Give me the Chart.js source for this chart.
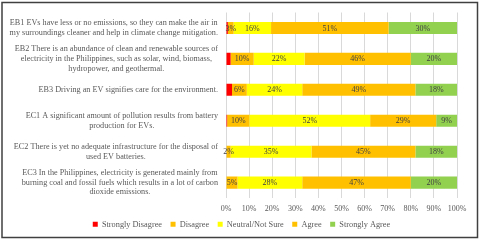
<!DOCTYPE html>
<html>
<head>
<meta charset="utf-8">
<script src="https://cdn.jsdelivr.net/npm/chart.js@4"></script>
<style>
html,body{margin:0;padding:0;background:#fff;}
#wrap{width:480px;height:240px;position:relative;}
</style>
</head>
<body>
<div id="wrap"><canvas id="c" width="480" height="240"></canvas></div>
<script>
const categories = [
  ["EB1 EVs have less or no emissions, so they can make the air in", "my surroundings cleaner and help in climate change mitigation."],
  ["EB2 There is an abundance of clean and renewable sources of", "electricity in the Philippines, such as solar, wind, biomass,", "hydropower, and geothermal."],
  ["EB3 Driving an EV signifies care for the environment."],
  ["EC1 A significant amount of pollution results from battery", "production for EVs."],
  ["EC2 There is yet no adequate infrastructure for the disposal of", "used EV batteries."],
  ["EC3 In the Philippines, electricity is generated mainly from", "burning coal and fossil fuels which results in a lot of carbon", "dioxide emissions."]
];
const seriesNames = ["Strongly Disagree", "Disagree", "Neutral/Not Sure", "Agree", "Strongly Agree"];
const stronglyDisagree = [0.8, 2, 2.6, 0.5, 0, 0];
const disagree = [2.5, 10, 6.4, 9.6, 2, 5];
const neutral = [16.2, 22, 24, 52.3, 35, 28];
const agree = [50.9, 46, 49, 28.6, 45, 47];
const stronglyAgree = [29.6, 20, 18, 9, 18, 20];
const showLabels = [false, true, true, true, true];
const xTicks = [0, 10, 20, 30, 40, 50, 60, 70, 80, 90, 100];
const colors = ["#FF0000", "#FFC000", "#FFFF00", "#FFC000", "#92D050"];
const values = [stronglyDisagree, disagree, neutral, agree, stronglyAgree];

const FONT = "'Liberation Serif', 'Times New Roman', serif";
const TXT = "#595959";

const segLabels = {
  id: 'segLabels',
  afterDatasetsDraw(chart) {
    const ctx = chart.ctx;
    ctx.save();
    ctx.font = "8px " + FONT;
    ctx.fillStyle = "#404040";
    ctx.textAlign = "center";
    ctx.textBaseline = "middle";
    chart.data.datasets.forEach((ds, di) => {
      if (!showLabels[di]) return;
      const meta = chart.getDatasetMeta(di);
      meta.data.forEach((bar, i) => {
        const v = ds.data[i];
        if (!v) return;
        const cx = (bar.x + bar.base) / 2;
        ctx.fillText(Math.round(v) + "%", cx, bar.y + 0.5);
      });
    });
    ctx.restore();
  }
};

const shiftLegend = {
  id: 'shiftLegend',
  afterLayout(chart) {
    const lg = chart.legend;
    if (lg) { lg.left += 9; lg.right += 9; lg.top -= 8; lg.bottom -= 8; }
  }
};

const catLabels = {
  id: 'catLabels',
  afterDraw(chart) {
    const ctx = chart.ctx;
    const y = chart.scales.y;
    ctx.save();
    ctx.font = "8.2px " + FONT;
    ctx.fillStyle = TXT;
    ctx.textAlign = "center";
    ctx.textBaseline = "middle";
    const lh = 9.7;
    const rightX = y.right - 8;
    categories.forEach((lines, i) => {
      const cy = y.getPixelForValue(i);
      let widest = 0;
      lines.forEach(l => { widest = Math.max(widest, ctx.measureText(l).width); });
      const cx = rightX - widest / 2;
      const y0 = cy - (lines.length - 1) * lh / 2;
      lines.forEach((l, k) => ctx.fillText(l, cx, y0 + k * lh));
    });
    // frame
    ctx.strokeStyle = "#404040";
    ctx.lineWidth = 1.5;
    ctx.strokeRect(2, 2.5, 475.5, 235);
    ctx.restore();
  }
};

new Chart(document.getElementById('c'), {
  type: 'bar',
  data: {
    labels: categories,
    datasets: seriesNames.map((n, i) => ({
      label: n,
      data: values[i],
      backgroundColor: colors[i],
      borderWidth: 0,
      categoryPercentage: 0.39,
      barPercentage: 1
    }))
  },
  options: {
    indexAxis: 'y',
    responsive: false,
    animation: false,
    devicePixelRatio: 1,
    layout: { padding: { top: 12.5, left: 8, right: 23, bottom: 0 } },
    plugins: {
      legend: {
        position: 'bottom',
        maxHeight: 20.3,
        labels: {
          boxWidth: 5, boxHeight: 5, padding: 8.5,
          color: TXT,
          font: { family: FONT, size: 8.3 }
        }
      },
      tooltip: { enabled: false }
    },
    scales: {
      x: {
        stacked: true, min: 0, max: 100,
        afterBuildTicks(axis) { axis.ticks = xTicks.map(v => ({ value: v })); },
        ticks: {
          callback: v => v + "%",
          color: TXT, font: { family: FONT, size: 8 }, padding: 6,
          maxRotation: 0, minRotation: 0, autoSkip: false
        },
        grid: { color: "#D9D9D9", drawTicks: false, lineWidth: 1 },
        border: { display: false }
      },
      y: {
        stacked: true,
        afterFit(axis) { axis.width = 218; },
        ticks: { callback: () => '', autoSkip: false },
        grid: { display: false },
        border: { display: false }
      }
    }
  },
  plugins: [segLabels, catLabels, shiftLegend]
});
</script>
</body>
</html>
